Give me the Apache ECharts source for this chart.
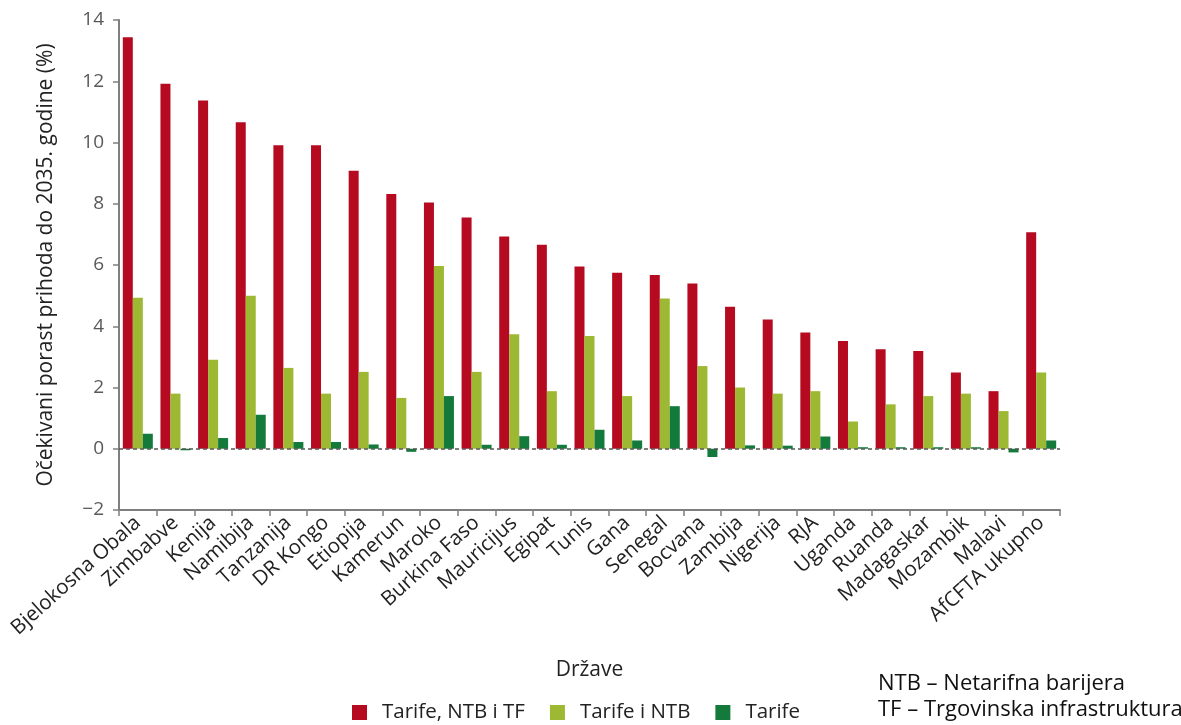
<!DOCTYPE html>
<html>
<head>
<meta charset="utf-8">
<script src="https://cdn.jsdelivr.net/npm/echarts@6/dist/echarts.min.js"></script>
<style>
html,body{margin:0;padding:0;background:#fff;}
#c{width:1181px;height:725px;}
</style>
</head>
<body>
<div id="c"></div>
<script>
const categories = ['Bjelokosna Obala','Zimbabve','Kenija','Namibija','Tanzanija','DR Kongo','Etiopija','Kamerun','Maroko','Burkina Faso','Mauricijus','Egipat','Tunis','Gana','Senegal','Bocvana','Zambija','Nigerija','RJA','Uganda','Ruanda','Madagaskar','Mozambik','Malavi','AfCFTA ukupno'];
const tarifeNtbTf = [13.44,11.92,11.37,10.66,9.91,9.91,9.08,8.32,8.04,7.55,6.93,6.66,5.95,5.75,5.67,5.40,4.64,4.22,3.80,3.52,3.25,3.19,2.49,1.88,7.07];
const tarifeNtb   = [4.93,1.80,2.91,5.00,2.64,1.80,2.51,1.66,5.97,2.51,3.74,1.88,3.68,1.72,4.91,2.70,2.00,1.80,1.88,0.89,1.45,1.72,1.80,1.23,2.49];
const tarife      = [0.49,-0.05,0.35,1.11,0.22,0.22,0.14,-0.10,1.72,0.13,0.41,0.13,0.62,0.27,1.39,-0.27,0.11,0.10,0.40,0.05,0.05,0.05,0.05,-0.12,0.27];
const seriesNames = ['Tarife, NTB i TF','Tarife i NTB','Tarife'];
const yTicks = {min:-2, max:14, interval:2};

const FONT = '"Open Sans", "Noto Sans", sans-serif';
const chart = echarts.init(document.getElementById('c'), null, {renderer:'canvas'});
const barBase = {type:'bar', barWidth:10, barGap:'0%'};
chart.setOption({
  animation:false,
  backgroundColor:'#fff',
  textStyle:{fontFamily:FONT},
  grid:{left:119, right:121, top:20, bottom:215, containLabel:false},
  legend:{
    data:seriesNames, left:347, top:697, itemWidth:15, itemHeight:15, itemGap:25,
    icon:'rect',
    textStyle:{fontFamily:FONT, fontSize:20.5, color:'#222', padding:[0,0,0,10]}
  },
  xAxis:{
    type:'category', data:categories,
    name:'Države', nameLocation:'middle', nameGap:150,
    nameTextStyle:{fontFamily:FONT, fontSize:21, color:'#222'},
    axisLine:{onZero:false, lineStyle:{color:'#7f7f7f', width:2}},
    axisTick:{show:true, alignWithLabel:false, length:6, lineStyle:{color:'#7f7f7f', width:1.5}},
    axisLabel:{rotate:42, fontFamily:FONT, fontSize:20.5, color:'#222', margin:10, interval:0}
  },
  yAxis:{
    type:'value', min:yTicks.min, max:yTicks.max, interval:yTicks.interval,
    name:'Očekivani porast prihoda do 2035. godine (%)', nameLocation:'middle', nameGap:62,
    nameTextStyle:{fontFamily:FONT, fontSize:21, color:'#222'},
    axisLine:{show:true, lineStyle:{color:'#7f7f7f', width:2}},
    axisTick:{show:true, length:6, lineStyle:{color:'#7f7f7f', width:1.5}},
    axisLabel:{fontFamily:FONT, fontSize:19, color:'#595959', margin:15,
      formatter:v => v < 0 ? '\u2212' + Math.abs(v) : String(v)},
    splitLine:{show:false}
  },
  series:[
    Object.assign({}, barBase, {name:seriesNames[0], data:tarifeNtbTf, itemStyle:{color:'#B50A20'},
      markLine:{silent:true, symbol:'none', label:{show:false},
        lineStyle:{type:[4,3], color:'#555', width:1.5}, data:[{yAxis:0}]}}),
    Object.assign({}, barBase, {name:seriesNames[1], data:tarifeNtb, itemStyle:{color:'#9DB833'}}),
    Object.assign({}, barBase, {name:seriesNames[2], data:tarife, itemStyle:{color:'#137A3B'}})
  ],
  graphic:[
    {type:'text', left:878, top:673, style:{text:'NTB \u2013 Netarifna barijera', font:'22px "Open Sans", sans-serif', fill:'#111'}},
    {type:'text', left:878, top:699, style:{text:'TF \u2013 Trgovinska infrastruktura', font:'22px "Open Sans", sans-serif', fill:'#111'}}
  ]
});
</script>
</body>
</html>
